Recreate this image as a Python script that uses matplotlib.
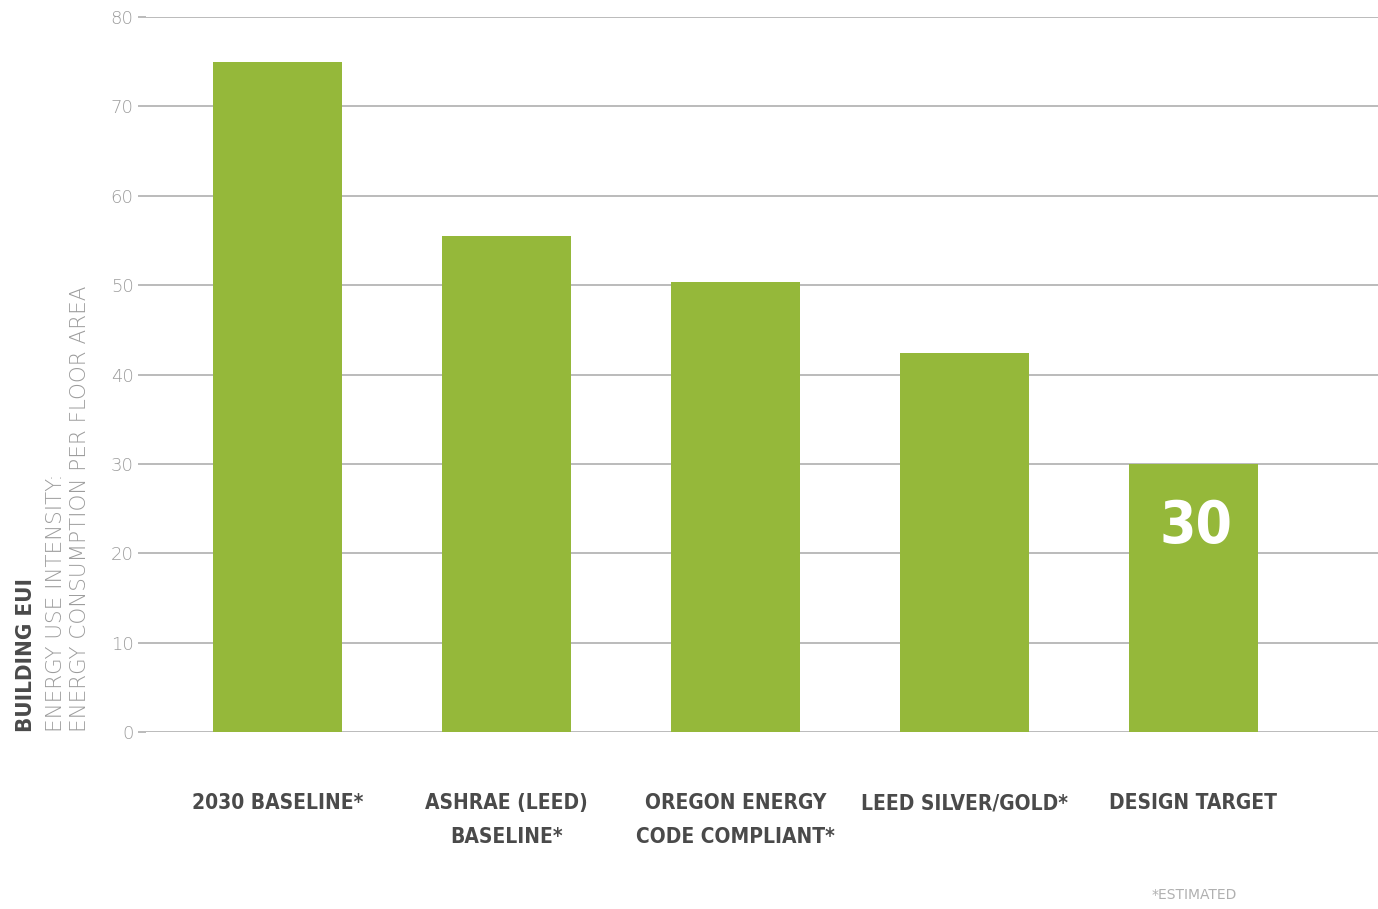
import matplotlib.pyplot as plt

categories = ['2030 BASELINE*', 'ASHRAE (LEED)\nBASELINE*', 'OREGON ENERGY\nCODE COMPLIANT*',
              'LEED SILVER/GOLD*', 'DESIGN TARGET']
values = [75, 55.5, 50.3, 42.4, 30]
yticks = [0, 10, 20, 30, 40, 50, 60, 70, 80]

green = '#95b83a'
grid = '#a8a8a8'
dark = '#4a4a4a'
soft = '#9c9c9c'

fig = plt.figure(figsize=(13.78, 9.09), dpi=100)
ax = fig.add_axes([0.106, 0.1947, 0.894, 0.7866])

x = list(range(len(categories)))
ax.bar(x, values, width=0.565, color=green, zorder=3)

ax.set_ylim(0, 80)
ax.set_xlim(-0.574, 4.806)
ax.set_yticks(yticks)
ax.set_yticklabels([str(t) for t in yticks], fontsize=13, color=soft,
                   fontfamily='DejaVu Sans', fontweight='light')
ax.yaxis.grid(True, color=grid, linewidth=1.1, zorder=0)
ax.tick_params(axis='y', length=6, width=1.1, color=grid, pad=3)
ax.set_xticks(x)
ax.set_xticklabels(categories, fontsize=15, fontweight='bold', color=dark,
                   fontfamily='DejaVu Sans', fontstretch='condensed', linespacing=1.85)
ax.tick_params(axis='x', length=0, pad=44)
for lbl in ax.get_xticklabels():
    lbl.set_va('top')
for s in ax.spines.values():
    s.set_visible(False)

# value label on the target bar
ax.text(4.01, 23.0, '30', ha='center', va='center', color='white', fontsize=42,
        fontweight='bold', fontfamily='DejaVu Sans', fontstretch='condensed', zorder=4)

# y axis title block
fig.text(0.019, 0.1947, 'BUILDING EUI', rotation=90, ha='center', va='bottom',
         fontsize=16, fontweight='bold', color=dark, fontfamily='DejaVu Sans',
         fontstretch='condensed')
fig.text(0.041, 0.1947, 'ENERGY USE INTENSITY:', rotation=90, ha='center', va='bottom',
         fontsize=15.5, color=soft, fontfamily='DejaVu Sans', fontweight='light')
fig.text(0.058, 0.1947, 'ENERGY CONSUMPTION PER FLOOR AREA', rotation=90, ha='center',
         va='bottom', fontsize=15.5, color=soft, fontfamily='DejaVu Sans', fontweight='light')

fig.text(0.867, 0.008, '*ESTIMATED', ha='center', va='bottom', fontsize=10,
         color='#b0b0b0', fontfamily='DejaVu Sans')

fig.savefig('out.png', dpi=100)
